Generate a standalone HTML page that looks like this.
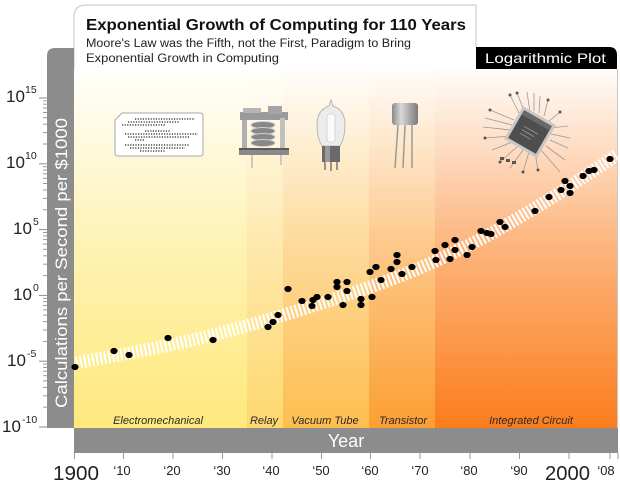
<!DOCTYPE html>
<html><head><meta charset="utf-8"><style>
html,body{margin:0;padding:0;background:#fff;}
svg{display:block;}
text{font-family:"Liberation Sans",sans-serif;}
</style></head><body>
<svg width="620" height="487" viewBox="0 0 620 487" xmlns="http://www.w3.org/2000/svg">
<defs>
<linearGradient id="g1" gradientUnits="userSpaceOnUse" x1="0" y1="62" x2="0" y2="428"><stop offset="0" stop-color="#fee97c" stop-opacity="0"/><stop offset="0.5" stop-color="#fee97c" stop-opacity="0.57"/><stop offset="1" stop-color="#fee97c"/></linearGradient>
<linearGradient id="g2" gradientUnits="userSpaceOnUse" x1="0" y1="62" x2="0" y2="428"><stop offset="0" stop-color="#fed86e" stop-opacity="0"/><stop offset="0.5" stop-color="#fed86e" stop-opacity="0.57"/><stop offset="1" stop-color="#fed86e"/></linearGradient>
<linearGradient id="g3" gradientUnits="userSpaceOnUse" x1="0" y1="62" x2="0" y2="428"><stop offset="0" stop-color="#fdbe4f" stop-opacity="0"/><stop offset="0.5" stop-color="#fdbe4f" stop-opacity="0.57"/><stop offset="1" stop-color="#fdbe4f"/></linearGradient>
<linearGradient id="g4" gradientUnits="userSpaceOnUse" x1="0" y1="62" x2="0" y2="428"><stop offset="0" stop-color="#fc9f32" stop-opacity="0"/><stop offset="0.5" stop-color="#fc9f32" stop-opacity="0.57"/><stop offset="1" stop-color="#fc9f32"/></linearGradient>
<linearGradient id="g5" gradientUnits="userSpaceOnUse" x1="0" y1="62" x2="0" y2="428"><stop offset="0" stop-color="#fb7d1c" stop-opacity="0"/><stop offset="0.5" stop-color="#fb7d1c" stop-opacity="0.57"/><stop offset="1" stop-color="#fb7d1c"/></linearGradient>
<linearGradient id="cyl" x1="0" y1="0" x2="1" y2="0"><stop offset="0" stop-color="#8a8a8a"/><stop offset="0.35" stop-color="#d8d8d8"/><stop offset="1" stop-color="#7a7a7a"/></linearGradient>
</defs>

<rect x="74" y="60" width="544" height="368" fill="#fff"/>
<!-- era columns -->
<rect x="74" y="60" width="173" height="368" fill="url(#g1)"/>
<rect x="247" y="60" width="36" height="368" fill="url(#g2)"/>
<rect x="283" y="60" width="86" height="368" fill="url(#g3)"/>
<rect x="369" y="60" width="66" height="368" fill="url(#g4)"/>
<rect x="435" y="60" width="182" height="368" fill="url(#g5)"/>

<!-- title box -->
<path d="M74,70 V17 Q74,5 86,5 H476 V70 Z" fill="#fff"/>
<path d="M74,70 V17 Q74,5 86,5 H476 V47" fill="none" stroke="#c4c4c4" stroke-width="1"/>
<line x1="617.5" y1="69" x2="617.5" y2="428" stroke="#c8c8c8" stroke-width="1"/>

<text x="86" y="30" font-size="15.5" font-weight="bold" fill="#111" textLength="380" lengthAdjust="spacingAndGlyphs">Exponential Growth of Computing for 110 Years</text>
<text x="86" y="47" font-size="11.5" fill="#222" textLength="325" lengthAdjust="spacingAndGlyphs">Moore's Law was the Fifth, not the First, Paradigm to Bring</text>
<text x="86" y="62" font-size="11.5" fill="#222" textLength="193" lengthAdjust="spacingAndGlyphs">Exponential Growth in Computing</text>

<!-- Logarithmic plot tab -->
<path d="M476,47 H609 Q617,47 617,55 V69 H476 Z" fill="#000"/>
<text x="485" y="63" font-size="14" fill="#fff" textLength="121" lengthAdjust="spacingAndGlyphs">Logarithmic Plot</text>

<!-- y axis band -->
<path d="M47,428 V56 Q47,48 55,48 H74 V428 Z" fill="#8c8c8c"/>
<text transform="translate(67,263) rotate(-90)" text-anchor="middle" font-size="17" fill="#fff" textLength="290" lengthAdjust="spacingAndGlyphs">Calculations per Second per $1000</text>

<!-- y ticks -->
<g stroke="#8c8c8c" stroke-width="1">
<line x1="39" y1="98" x2="47" y2="98"/><line x1="39" y1="163.8" x2="47" y2="163.8"/><line x1="39" y1="229.6" x2="47" y2="229.6"/><line x1="39" y1="295.4" x2="47" y2="295.4"/><line x1="39" y1="361.2" x2="47" y2="361.2"/><line x1="39" y1="427" x2="47" y2="427"/>
</g>
<g stroke="#999" stroke-width="1">
<line x1="43" y1="144" x2="47" y2="144"/><line x1="43" y1="132.6" x2="47" y2="132.6"/><line x1="43" y1="124.2" x2="47" y2="124.2"/><line x1="43" y1="117.7" x2="47" y2="117.7"/><line x1="43" y1="112.5" x2="47" y2="112.5"/><line x1="43" y1="108" x2="47" y2="108"/><line x1="43" y1="104.2" x2="47" y2="104.2"/><line x1="43" y1="100.9" x2="47" y2="100.9"/>
<line x1="43" y1="209.8" x2="47" y2="209.8"/><line x1="43" y1="198.4" x2="47" y2="198.4"/><line x1="43" y1="190" x2="47" y2="190"/><line x1="43" y1="183.5" x2="47" y2="183.5"/><line x1="43" y1="178.3" x2="47" y2="178.3"/><line x1="43" y1="173.8" x2="47" y2="173.8"/><line x1="43" y1="170" x2="47" y2="170"/><line x1="43" y1="166.7" x2="47" y2="166.7"/>
<line x1="43" y1="275.6" x2="47" y2="275.6"/><line x1="43" y1="264.2" x2="47" y2="264.2"/><line x1="43" y1="255.8" x2="47" y2="255.8"/><line x1="43" y1="249.3" x2="47" y2="249.3"/><line x1="43" y1="244.1" x2="47" y2="244.1"/><line x1="43" y1="239.6" x2="47" y2="239.6"/><line x1="43" y1="235.8" x2="47" y2="235.8"/><line x1="43" y1="232.5" x2="47" y2="232.5"/>
<line x1="43" y1="341.4" x2="47" y2="341.4"/><line x1="43" y1="330" x2="47" y2="330"/><line x1="43" y1="321.6" x2="47" y2="321.6"/><line x1="43" y1="315.1" x2="47" y2="315.1"/><line x1="43" y1="309.9" x2="47" y2="309.9"/><line x1="43" y1="305.4" x2="47" y2="305.4"/><line x1="43" y1="301.6" x2="47" y2="301.6"/><line x1="43" y1="298.3" x2="47" y2="298.3"/>
<line x1="43" y1="407.2" x2="47" y2="407.2"/><line x1="43" y1="395.8" x2="47" y2="395.8"/><line x1="43" y1="387.4" x2="47" y2="387.4"/><line x1="43" y1="380.9" x2="47" y2="380.9"/><line x1="43" y1="375.7" x2="47" y2="375.7"/><line x1="43" y1="371.2" x2="47" y2="371.2"/><line x1="43" y1="367.4" x2="47" y2="367.4"/><line x1="43" y1="364.1" x2="47" y2="364.1"/>
</g>

<!-- y labels -->
<g fill="#222">
<text x="6" y="102" font-size="17">10</text><text x="25" y="93" font-size="10.5">15</text>
<text x="6" y="168" font-size="17">10</text><text x="25" y="159" font-size="10.5">10</text>
<text x="13" y="234" font-size="17">10</text><text x="33" y="225" font-size="10.5">5</text>
<text x="13" y="300" font-size="17">10</text><text x="33" y="291" font-size="10.5">0</text>
<text x="7" y="366" font-size="17">10</text><text x="27" y="357" font-size="10.5">-5</text>
<text x="2" y="432" font-size="17">10</text><text x="22" y="423" font-size="10.5">-10</text>
</g>

<!-- x axis band -->
<rect x="74" y="428" width="544" height="25" fill="#8c8c8c"/>
<text x="346" y="447" text-anchor="middle" font-size="18" fill="#fff">Year</text>

<!-- x ticks -->
<g stroke="#999" stroke-width="1">
<line x1="74.5" y1="453" x2="74.5" y2="459"/><line x1="123.5" y1="453" x2="123.5" y2="459"/><line x1="173" y1="453" x2="173" y2="459"/><line x1="222.5" y1="453" x2="222.5" y2="459"/><line x1="272" y1="453" x2="272" y2="459"/><line x1="321.5" y1="453" x2="321.5" y2="459"/><line x1="370.5" y1="453" x2="370.5" y2="459"/><line x1="420" y1="453" x2="420" y2="459"/><line x1="470" y1="453" x2="470" y2="459"/><line x1="519.5" y1="453" x2="519.5" y2="459"/><line x1="569" y1="453" x2="569" y2="459"/><line x1="610" y1="453" x2="610" y2="459"/><line x1="618" y1="453" x2="618" y2="459"/>
</g>
<g fill="#222" text-anchor="middle">
<text x="76" y="480" font-size="20" textLength="46" lengthAdjust="spacingAndGlyphs">1900</text>
<text x="122" y="475" font-size="13">‘10</text>
<text x="172" y="475" font-size="13">‘20</text>
<text x="222" y="475" font-size="13">‘30</text>
<text x="271" y="475" font-size="13">‘40</text>
<text x="321" y="475" font-size="13">‘50</text>
<text x="370" y="475" font-size="13">‘60</text>
<text x="420" y="475" font-size="13">‘70</text>
<text x="469" y="475" font-size="13">‘80</text>
<text x="519" y="475" font-size="13">‘90</text>
<text x="567.5" y="480" font-size="20" textLength="45" lengthAdjust="spacingAndGlyphs">2000</text>
<text x="606" y="475" font-size="13">‘08</text>
</g>

<!-- era labels -->
<g font-size="11" font-style="italic" fill="#2a2a2a" text-anchor="middle">
<text x="158" y="424">Electromechanical</text>
<text x="264" y="424">Relay</text>
<text x="325" y="424">Vacuum Tube</text>
<text x="403" y="424">Transistor</text>
<text x="531" y="424">Integrated Circuit</text>
</g>

<!-- punch card -->
<path d="M122,113 H200 Q203,113 203,116 V153 Q203,156 200,156 H118 Q115,156 115,153 V120 Z" fill="#fff" stroke="#a8a8a8" stroke-width="1"/>
<g stroke="#222" stroke-width="1.2" stroke-dasharray="1.2 1.4">
<line x1="135" y1="119" x2="195" y2="119"/>
<line x1="128" y1="122" x2="180" y2="122"/>
<line x1="122" y1="125" x2="165" y2="125"/>
<line x1="145" y1="131" x2="170" y2="131"/>
<line x1="125" y1="134" x2="198" y2="134"/>
<line x1="128" y1="137" x2="190" y2="137"/>
<line x1="135" y1="140" x2="145" y2="140"/>
<line x1="125" y1="145" x2="190" y2="145"/>
<line x1="130" y1="148" x2="185" y2="148"/>
<line x1="140" y1="151" x2="165" y2="151"/>
</g>

<!-- relay -->
<g>
<rect x="240" y="112" width="48" height="8" fill="#9a9a9a"/>
<rect x="243" y="108" width="18" height="5" fill="#b5b5b5"/>
<rect x="268" y="106" width="14" height="8" fill="#a5a5a5"/>
<rect x="242" y="120" width="5" height="28" fill="#b0b0b0"/>
<rect x="280" y="118" width="5" height="30" fill="#c0c0c0"/>
<g fill="#888" stroke="#d0d0d0" stroke-width="1">
<ellipse cx="263" cy="125" rx="12" ry="3.5"/>
<ellipse cx="263" cy="131" rx="12" ry="3.5"/>
<ellipse cx="263" cy="137" rx="12" ry="3.5"/>
<ellipse cx="263" cy="143" rx="12" ry="3.5"/>
</g>
<rect x="239" y="148" width="50" height="7" fill="#8a8a8a"/>
<rect x="239" y="148" width="50" height="2" fill="#5a5a5a"/>
<line x1="252" y1="155" x2="252" y2="168" stroke="#bbb" stroke-width="1.5"/>
<line x1="281" y1="155" x2="281" y2="165" stroke="#bbb" stroke-width="1.5"/>
</g>

<!-- vacuum tube -->
<g>
<path d="M331,100 L333,106 Q345,110 345,125 Q345,138 340,146 H322 Q317,138 317,125 Q317,110 329,106 Z" fill="#ececec" stroke="#b8b8b8" stroke-width="1"/>
<rect x="327" y="114" width="8" height="28" rx="3" fill="#fafafa" stroke="#d0d0d0" stroke-width="0.8"/>
<rect x="322" y="146" width="18" height="16" fill="#6a6a6a"/>
<rect x="325" y="146" width="5" height="16" fill="#9a9a9a"/>
<g stroke="#777" stroke-width="1.5"><line x1="325" y1="162" x2="325" y2="170"/><line x1="331" y1="162" x2="331" y2="171"/><line x1="337" y1="162" x2="337" y2="170"/></g>
</g>

<!-- transistor -->
<g>
<rect x="392" y="103" width="26" height="22" rx="3" fill="url(#cyl)"/>
<g stroke="#999" stroke-width="1.5"><line x1="398" y1="125" x2="395" y2="168"/><line x1="405" y1="125" x2="403" y2="168"/><line x1="412" y1="125" x2="412" y2="168"/></g>
</g>

<!-- IC chip -->
<g stroke="#999" stroke-width="0.8" fill="none">
<path d="M520,115 L510,95 M525,113 L517,93 M530,112 L527,92 M534,111 L534,93 M514,120 L490,110 M512,125 L485,118 M511,130 L483,127 M512,136 L485,138 M515,141 L492,150 M518,146 L500,162 M523,150 L510,168 M529,152 L523,172 M535,152 L538,170 M541,150 L560,172 M546,146 L565,160 M550,140 L568,148 M551,134 L570,138 M550,128 L568,126 M548,122 L560,112 M544,116 L548,100 M539,113 L540,96"/>
</g>
<g fill="#555">
<circle cx="510" cy="95" r="1.5"/><circle cx="517" cy="93" r="1.5"/><circle cx="490" cy="110" r="1.5"/><circle cx="485" cy="138" r="1.5"/><circle cx="500" cy="162" r="1.5"/><circle cx="523" cy="172" r="1.5"/><circle cx="538" cy="170" r="1.5"/><circle cx="560" cy="112" r="1.5"/><circle cx="548" cy="100" r="1.5"/>
<rect x="500" y="157" width="4" height="3"/><rect x="506" y="159" width="4" height="3"/><rect x="512" y="161" width="4" height="3"/>
</g>
<g transform="rotate(30 530 132)">
<rect x="511" y="113" width="38" height="38" fill="#c8c8c8"/>
<rect x="514" y="116" width="32" height="32" fill="#4e4e4e"/>
<rect x="514" y="116" width="32" height="5" fill="#6a6a6a"/>
<g stroke="#999" stroke-width="0.8"><line x1="522" y1="130" x2="538" y2="130"/><line x1="522" y1="134" x2="536" y2="134"/><line x1="522" y1="138" x2="534" y2="138"/></g>
</g>

<!-- trend band -->
<path d="M76,363 C98,358.3 163.8,347.7 213,335 C262.2,322.3 328.3,301.5 370,287 C411.7,272.5 434.7,261.7 463,248 C491.3,234.3 515,220 540,205 C565,190 600,166 617,155" fill="none" stroke="#fff" stroke-width="13" stroke-dasharray="2 2.1"/>

<!-- data points -->
<g fill="#000">
<ellipse cx="75" cy="367" rx="3.6" ry="3.1"/>
<ellipse cx="114" cy="351" rx="3.6" ry="3.1"/>
<ellipse cx="129" cy="355" rx="3.6" ry="3.1"/>
<ellipse cx="168" cy="338" rx="3.6" ry="3.1"/>
<ellipse cx="213" cy="340" rx="3.6" ry="3.1"/>
<ellipse cx="268" cy="327" rx="3.6" ry="3.1"/>
<ellipse cx="273" cy="322" rx="3.6" ry="3.1"/>
<ellipse cx="278" cy="315" rx="3.6" ry="3.1"/>
<ellipse cx="288" cy="289" rx="3.6" ry="3.1"/>
<ellipse cx="302" cy="301" rx="3.6" ry="3.1"/>
<ellipse cx="312" cy="306" rx="3.6" ry="3.1"/>
<ellipse cx="313" cy="300" rx="3.6" ry="3.1"/>
<ellipse cx="317" cy="297" rx="3.6" ry="3.1"/>
<ellipse cx="328" cy="297" rx="3.6" ry="3.1"/>
<ellipse cx="337" cy="282" rx="3.6" ry="3.1"/>
<ellipse cx="337" cy="287" rx="3.6" ry="3.1"/>
<ellipse cx="347" cy="282" rx="3.6" ry="3.1"/>
<ellipse cx="347" cy="291" rx="3.6" ry="3.1"/>
<ellipse cx="343" cy="305" rx="3.6" ry="3.1"/>
<ellipse cx="361" cy="299" rx="3.6" ry="3.1"/>
<ellipse cx="361" cy="305" rx="3.6" ry="3.1"/>
<ellipse cx="372" cy="297" rx="3.6" ry="3.1"/>
<ellipse cx="370" cy="272" rx="3.6" ry="3.1"/>
<ellipse cx="376" cy="267" rx="3.6" ry="3.1"/>
<ellipse cx="381" cy="280" rx="3.6" ry="3.1"/>
<ellipse cx="391" cy="269" rx="3.6" ry="3.1"/>
<ellipse cx="397" cy="255" rx="3.6" ry="3.1"/>
<ellipse cx="397" cy="262" rx="3.6" ry="3.1"/>
<ellipse cx="402" cy="274" rx="3.6" ry="3.1"/>
<ellipse cx="412" cy="267" rx="3.6" ry="3.1"/>
<ellipse cx="435" cy="251" rx="3.6" ry="3.1"/>
<ellipse cx="436" cy="260" rx="3.6" ry="3.1"/>
<ellipse cx="445" cy="245" rx="3.6" ry="3.1"/>
<ellipse cx="450" cy="259" rx="3.6" ry="3.1"/>
<ellipse cx="455" cy="240" rx="3.6" ry="3.1"/>
<ellipse cx="455" cy="250" rx="3.6" ry="3.1"/>
<ellipse cx="467" cy="255" rx="3.6" ry="3.1"/>
<ellipse cx="472" cy="247" rx="3.6" ry="3.1"/>
<ellipse cx="481" cy="231" rx="3.6" ry="3.1"/>
<ellipse cx="487" cy="233" rx="3.6" ry="3.1"/>
<ellipse cx="491" cy="234" rx="3.6" ry="3.1"/>
<ellipse cx="500" cy="222" rx="3.6" ry="3.1"/>
<ellipse cx="505" cy="227" rx="3.6" ry="3.1"/>
<ellipse cx="535" cy="211" rx="3.6" ry="3.1"/>
<ellipse cx="549" cy="197" rx="3.6" ry="3.1"/>
<ellipse cx="561" cy="190" rx="3.6" ry="3.1"/>
<ellipse cx="565" cy="181" rx="3.6" ry="3.1"/>
<ellipse cx="570" cy="186" rx="3.6" ry="3.1"/>
<ellipse cx="570" cy="193" rx="3.6" ry="3.1"/>
<ellipse cx="583" cy="176" rx="3.6" ry="3.1"/>
<ellipse cx="589" cy="171" rx="3.6" ry="3.1"/>
<ellipse cx="594" cy="170" rx="3.6" ry="3.1"/>
<ellipse cx="610" cy="159" rx="3.6" ry="3.1"/>
</g>
</svg>
</body></html>
